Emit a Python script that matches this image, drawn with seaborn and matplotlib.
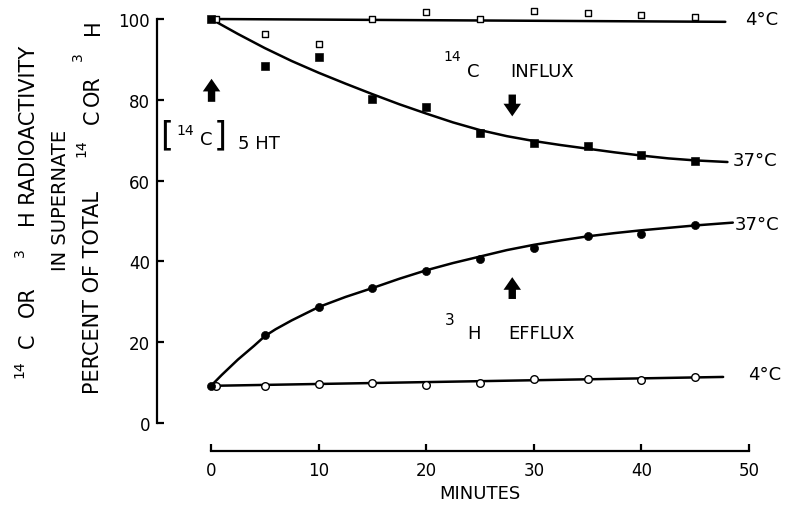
import numpy as np
import pandas as pd
import matplotlib
matplotlib.use("Agg")
import matplotlib.pyplot as plt
import seaborn as sns

# zaman noktalari (dakika)
minutes = [0, 5, 10, 15, 20, 25, 30, 35, 40, 45]
minutes_open = [0.5, 5, 10, 15, 20, 25, 30, 35, 40, 45]

# 14C influx, 4C (acik kare) ve 37C (dolu kare)
c14_4c = [100, 96.3, 93.8, 100, 101.8, 100, 101.9, 101.4, 101, 100.4]
c14_37c = [100, 88.4, 90.5, 80.2, 78.3, 71.7, 69.2, 68.6, 66.3, 64.9]

# 3H efflux, 37C (dolu daire) ve 4C (acik daire)
h3_37c = [9.2, 21.7, 28.6, 33.3, 37.7, 40.6, 43.4, 46.3, 46.8, 49.0]
h3_4c = [9.2, 9.2, 9.6, 9.9, 9.5, 9.9, 10.9, 10.9, 10.6, 11.5]

# egriler
influx_x = [0, 2.5, 5, 7.5, 10, 12.5, 15, 17.5, 20, 22.5, 25, 27.5, 30,
            32.5, 35, 37.5, 40, 42.5, 45, 48]
influx_y = [100, 96.3, 92.8, 89.6, 86.7, 84.0, 81.4, 78.9, 76.6, 74.4, 72.5,
            71.0, 69.8, 68.8, 67.9, 67.0, 66.2, 65.5, 65.0, 64.6]
efflux_x = [0, 1, 2.5, 4, 5, 6, 7.5, 10, 12.5, 15, 17.5, 20, 22.5, 25, 27.5, 30,
            32.5, 35, 37.5, 40, 42.5, 45, 48.5]
efflux_y = [9.2, 11.9, 15.7, 19.1, 21.5, 23.2, 25.4, 28.7, 31.2, 33.4, 35.7, 37.8,
            39.6, 41.2, 42.8, 44.1, 45.2, 46.2, 47.0, 47.7, 48.3, 48.9, 49.6]
line_c14_4_x = [0, 47.8]
line_c14_4_y = [100, 99.3]
line_h3_4_x = [0, 47.6]
line_h3_4_y = [9.2, 11.4]

x_ticks = [0, 10, 20, 30, 40, 50]
y_ticks = [0, 20, 40, 60, 80, 100]

sns.set_theme(style="ticks")
plt.rcParams["font.family"] = ["DejaVu Sans"]
plt.rcParams["mathtext.default"] = "regular"
for k in ["text.color", "axes.labelcolor", "xtick.color", "ytick.color", "axes.edgecolor"]:
    plt.rcParams[k] = "black"

fig = plt.figure(figsize=(7.95, 5.06), dpi=100)
ax = fig.add_axes([157 / 795, 54 / 506, 1 - 157 / 795, 1 - 54 / 506])
ax.set_xlim(-5.02, 54.28)
ax.set_ylim(-6.93, 104.95)

lw = 1.8
sns.lineplot(x=influx_x, y=influx_y, ax=ax, color="black", lw=lw)
sns.lineplot(x=efflux_x, y=efflux_y, ax=ax, color="black", lw=lw)
sns.lineplot(x=line_c14_4_x, y=line_c14_4_y, ax=ax, color="black", lw=lw)
sns.lineplot(x=line_h3_4_x, y=line_h3_4_y, ax=ax, color="black", lw=lw)

df_sq = pd.DataFrame({"t": minutes, "v": c14_37c})
df_osq = pd.DataFrame({"t": minutes_open, "v": c14_4c})
df_ci = pd.DataFrame({"t": minutes, "v": h3_37c})
df_oci = pd.DataFrame({"t": minutes_open, "v": h3_4c})

sns.scatterplot(data=df_osq, x="t", y="v", ax=ax, marker="s", s=22,
                facecolor="white", edgecolor="black", linewidth=1.0, zorder=3)
sns.scatterplot(data=df_sq, x="t", y="v", ax=ax, marker="s", s=30,
                color="black", edgecolor="black", zorder=4)
sns.scatterplot(data=df_oci, x="t", y="v", ax=ax, marker="o", s=30,
                facecolor="white", edgecolor="black", linewidth=1.0, zorder=3)
sns.scatterplot(data=df_ci, x="t", y="v", ax=ax, marker="o", s=34,
                color="black", edgecolor="black", zorder=4)

# eksenler
for side in ["top", "right"]:
    ax.spines[side].set_visible(False)
ax.spines["left"].set_bounds(0, 100)
ax.spines["bottom"].set_bounds(0, 50)
ax.spines["left"].set_linewidth(1.6)
ax.spines["bottom"].set_linewidth(1.6)
ax.set_xticks(x_ticks)
ax.set_yticks(y_ticks)
ax.tick_params(axis="both", direction="in", length=5, width=1.6,
               labelsize=12, colors="black")
ax.tick_params(axis="x", pad=7)
ax.tick_params(axis="y", pad=5)
ax.set_xlabel("")
ax.set_ylabel("")

fig.text(480 / 795, 1 - 494 / 506, "MINUTES", ha="center", va="center", fontsize=13)

# y etiketi: parca parca yazilir
def ylab(x, y, s, size=15):
    fig.text(x / 795, 1 - y / 506, s, rotation=90, ha="center", va="center", fontsize=size)

ylab(19, 369, "14", 10)
ylab(28, 341, "C")
ylab(28, 302, "OR")
ylab(20, 253, "3", 10)
ylab(29, 136, "H RADIOACTIVITY")
ylab(61, 200, "IN SUPERNATE", 14)
ylab(93, 292, "PERCENT OF TOTAL")
ylab(81, 148, "14", 10)
ylab(93, 117, "C")
ylab(93, 91, "OR")
ylab(78, 57, "3", 10)
ylab(93, 27, "H")

# egri etiketleri
lab = 13
ax.text(49.6, 100, "4°C", ha="left", va="center", fontsize=lab)
ax.text(48.5, 65.0, "37°C", ha="left", va="center", fontsize=lab)
ax.text(48.7, 49.3, "37°C", ha="left", va="center", fontsize=lab)
ax.text(49.9, 12.1, "4°C", ha="left", va="center", fontsize=lab)

# 14C INFLUX
ax.text(22.4, 90.8, "14", ha="center", va="center", fontsize=10)
ax.text(24.4, 87.1, "C", ha="center", va="center", fontsize=lab)
ax.text(27.8, 87.2, "INFLUX", ha="left", va="center", fontsize=lab)

# 3H EFFLUX
ax.text(22.2, 25.7, "3", ha="center", va="center", fontsize=11)
ax.text(24.4, 22.3, "H", ha="center", va="center", fontsize=lab)
ax.text(27.6, 22.3, "EFFLUX", ha="left", va="center", fontsize=lab)

# [14C] 5 HT
ax.text(-4.1, 71.3, "[", ha="center", va="center", fontsize=24)
ax.text(-2.4, 72.5, "14", ha="center", va="center", fontsize=10)
ax.text(-0.46, 70.3, "C", ha="center", va="center", fontsize=lab)
ax.text(0.84, 71.3, "]", ha="center", va="center", fontsize=24)
ax.text(2.5, 69.4, "5 HT", ha="left", va="center", fontsize=lab)

# oklar
arrow = dict(arrowstyle="simple,head_width=0.9,head_length=0.65,tail_width=0.38",
             color="black", lw=0, mutation_scale=14, shrinkA=0, shrinkB=0)
ax.annotate("", xy=(0.05, 85.2), xytext=(0.05, 79.5), arrowprops=arrow)
ax.annotate("", xy=(28, 75.9), xytext=(28, 81.3), arrowprops=arrow)
ax.annotate("", xy=(28, 36.1), xytext=(28, 30.7), arrowprops=arrow)

fig.savefig("out.png", dpi=100)
